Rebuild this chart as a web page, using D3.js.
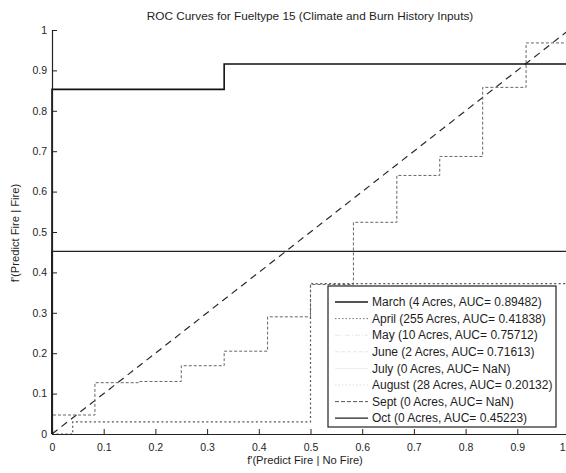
<!DOCTYPE html>
<html><head><meta charset="utf-8">
<script src="https://cdn.jsdelivr.net/npm/d3@7"></script>
<style>
body{margin:0;background:#fff}
text{font-family:"Liberation Sans",Arial,Helvetica,sans-serif;fill:#1e1e1e}
</style>
</head><body>
<svg id="c" width="566" height="473"></svg>
<script>
// ---- data ----
const title = "ROC Curves for Fueltype 15 (Climate and Burn History Inputs)";
const xLabel = "f'(Predict Fire | No Fire)";
const yLabel = "f'(Predict Fire | Fire)";
const xTicks = [0,0.1,0.2,0.3,0.4,0.5,0.6,0.7,0.8,0.9,1];
const xTickLabels = ["0","0.1","0.2","0.3","0.4","0.5","0.6","0.7","0.8","0.9","1"];
const yTicks = [0,0.1,0.2,0.3,0.4,0.5,0.6,0.7,0.8,0.9,1];
const yTickLabels = ["0","0.1","0.2","0.3","0.4","0.5","0.6","0.7","0.8","0.9","1"];

const legendLabels = [
  "March (4 Acres, AUC= 0.89482)",
  "April (255 Acres, AUC= 0.41838)",
  "May (10 Acres, AUC= 0.75712)",
  "June (2 Acres, AUC= 0.71613)",
  "July (0 Acres, AUC= NaN)",
  "August (28 Acres, AUC= 0.20132)",
  "Sept (0 Acres, AUC= NaN)",
  "Oct (0 Acres, AUC= 0.45223)"
];

// ROC step curves (false positive rate, true positive rate)
const marchFpr = [0, 0, 0.333, 1];
const marchTpr = [0, 0.853, 0.916, 0.916];
const aprilFpr = [0, 0, 0.083, 0.167, 0.25, 0.333, 0.417, 0.5, 0.583, 0.667, 0.75, 0.833, 0.917, 1];
const aprilTpr = [0, 0.047, 0.127, 0.13, 0.169, 0.205, 0.29, 0.37, 0.524, 0.64, 0.687, 0.858, 0.968, 0.968];
const augustFpr = [0, 0.04, 0.5, 1];
const augustTpr = [0, 0.03, 0.372, 0.372];
const octFpr = [0, 0, 1];
const octTpr = [0, 0.452, 0.452];
const chanceFpr = [0, 1];
const chanceTpr = [0, 1];

// ---- styles (separate from data) ----
const legendStyles = [
  {stroke:"#1a1a1a", width:1.4, dash:null},
  {stroke:"#777", width:1, dash:"1.5,2"},
  {stroke:"#e6e6e6", width:1, dash:"5,2,1,2"},
  {stroke:"#e6e6e6", width:1, dash:"4,2"},
  {stroke:"#eeeeee", width:1, dash:null},
  {stroke:"#dddddd", width:1, dash:"1.5,2"},
  {stroke:"#555", width:1, dash:"4,2"},
  {stroke:"#222", width:1.3, dash:null}
];

const svg = d3.select("#c");
const x = d3.scaleLinear().domain([0,1]).range([52,569]);
const y = d3.scaleLinear().domain([0,1]).range([434,30]);

const zip = (a,b) => a.map((v,i)=>[v,b[i]]);
const stepLine = d3.line().x(d=>x(d[0])).y(d=>y(d[1])).curve(d3.curveStepAfter);
const straight = d3.line().x(d=>x(d[0])).y(d=>y(d[1]));

const g = svg.append("g");

// chance diagonal
g.append("path").attr("d", straight(zip(chanceFpr, chanceTpr)))
  .attr("fill","none").attr("stroke","#2a2a2a").attr("stroke-width",1.2)
  .attr("stroke-dasharray","7,5");

// August
g.append("path").attr("d", stepLine(zip(augustFpr, augustTpr)))
  .attr("fill","none").attr("stroke","#555").attr("stroke-width",1.2)
  .attr("stroke-dasharray","2,2.5");
// April
g.append("path").attr("d", stepLine(zip(aprilFpr, aprilTpr)))
  .attr("fill","none").attr("stroke","#666").attr("stroke-width",1)
  .attr("stroke-dasharray","3,2");
// Oct
g.append("path").attr("d", stepLine(zip(octFpr, octTpr)))
  .attr("fill","none").attr("stroke","#222").attr("stroke-width",1.4);
// March
g.append("path").attr("d", stepLine(zip(marchFpr, marchTpr)))
  .attr("fill","none").attr("stroke","#111").attr("stroke-width",1.6);

// axes
const yAxis = d3.axisLeft(y).tickValues(yTicks).tickSize(-5).tickPadding(5)
  .tickFormat((d,i)=>yTickLabels[i]);
const xAxis = d3.axisBottom(x).tickValues(xTicks).tickSize(-5).tickPadding(10)
  .tickFormat((d,i)=>xTickLabels[i]);
const ya = svg.append("g").attr("transform",`translate(${x(0)},0)`).call(yAxis);
const xa = svg.append("g").attr("transform",`translate(0,${y(0)})`).call(xAxis);
[ya,xa].forEach(a=>{
  a.select(".domain").attr("stroke","#222").attr("stroke-width",1.2);
  a.selectAll(".tick line").attr("stroke","#222");
  a.selectAll("text").attr("font-size",10.5).attr("fill","#1e1e1e")
    .attr("font-family",'"Liberation Sans",Arial,sans-serif');
});
// last x tick label sits at the right edge of the window
xa.selectAll(".tick text").filter((d,i)=>i===xTicks.length-1)
  .attr("text-anchor","end").attr("dx",-4);

// title and labels
svg.append("text").attr("x",310).attr("y",20).attr("text-anchor","middle")
  .attr("font-size",11.8).text(title);
svg.append("text").attr("x",305).attr("y",464).attr("text-anchor","middle")
  .attr("font-size",11.2).text(xLabel);
svg.append("text").attr("transform","translate(19,233) rotate(-90)")
  .attr("text-anchor","middle").attr("font-size",11.2).text(yLabel);

// legend
const lg = svg.append("g");
lg.append("rect").attr("x",328).attr("y",286).attr("width",228).attr("height",141)
  .attr("fill","#fff").attr("stroke","#222").attr("stroke-width",1.2);
legendLabels.forEach((lab,i)=>{
  const yy = 302 + i*16.6;
  const s = legendStyles[i];
  lg.append("line").attr("x1",335).attr("x2",368).attr("y1",yy).attr("y2",yy)
    .attr("stroke",s.stroke).attr("stroke-width",s.width)
    .attr("stroke-dasharray",s.dash);
  lg.append("text").attr("x",372).attr("y",yy).attr("dy","0.35em")
    .attr("font-size",12).text(lab);
});
</script>
</body></html>
